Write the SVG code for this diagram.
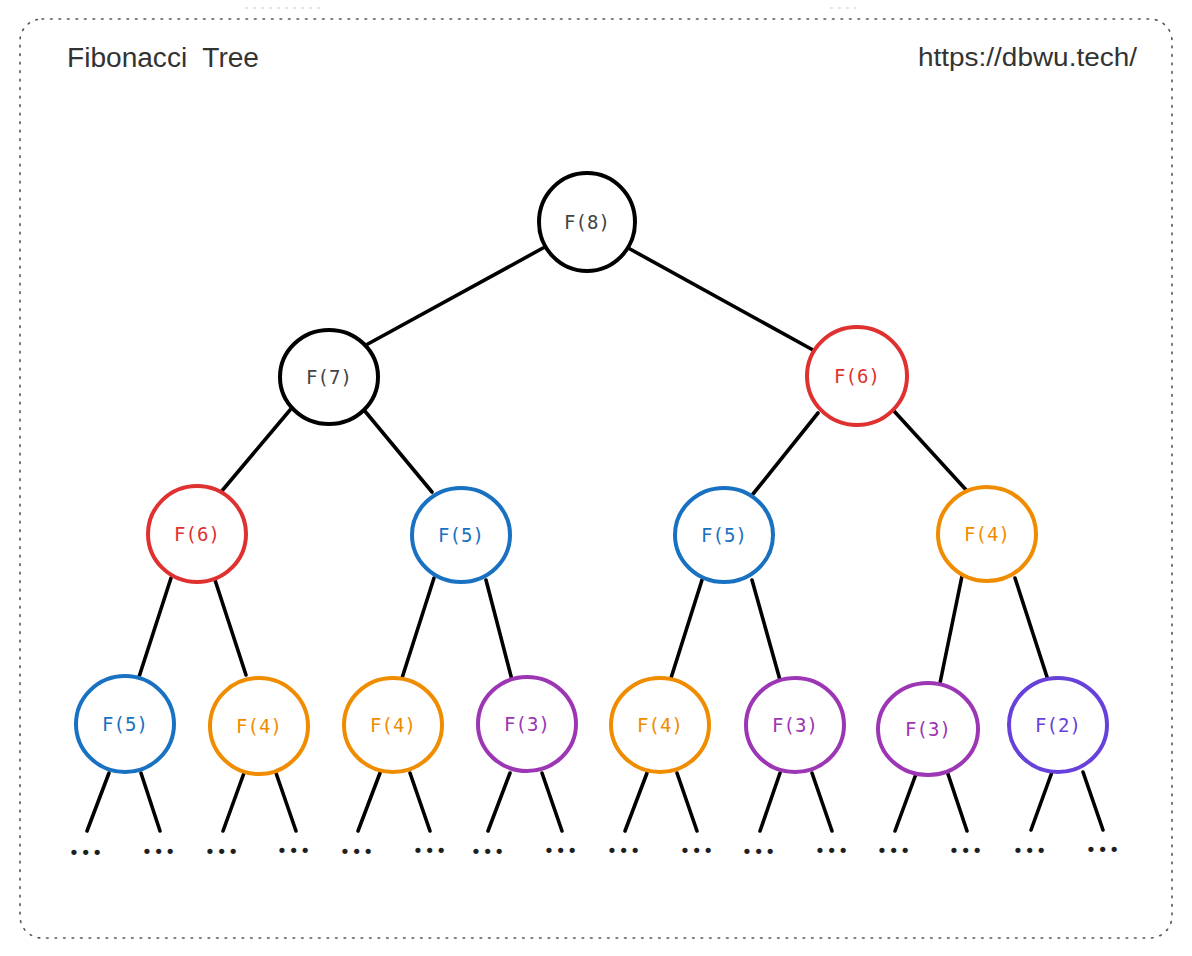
<svg xmlns="http://www.w3.org/2000/svg" width="1192" height="956" viewBox="0 0 1192 956">
<style>
.frame{fill:none;stroke:#555;stroke-width:1.6;stroke-dasharray:1.6 6.9;stroke-linecap:round}
.faint{fill:none;stroke:#ccc;stroke-width:1;stroke-dasharray:3 5}
.hdr{font-family:"Liberation Sans",Arial,sans-serif;font-size:27px;fill:#333}
.edge{stroke:#000;stroke-width:3.6;stroke-linecap:round;fill:none}
.node ellipse{fill:#fff;stroke-width:4}
.node text{font-family:"DejaVu Sans Mono","Liberation Mono",monospace;font-size:19px;text-anchor:middle}
.k ellipse{stroke:#000}.k text{fill:#444}
.r ellipse{stroke:#e03131}.r text{fill:#e03131}
.b ellipse{stroke:#1971c2}.b text{fill:#1971c2}
.o ellipse{stroke:#f08c00}.o text{fill:#f08c00}
.p ellipse{stroke:#9c36b5}.p text{fill:#9c36b5}
.v ellipse{stroke:#6741d9}.v text{fill:#6741d9}
.dots{font-family:"DejaVu Sans Mono","Liberation Mono",monospace;font-size:18px;letter-spacing:0.8px;fill:#1e1e1e;text-anchor:middle}
</style>
<rect width="1192" height="956" fill="#fff"/>
<line class="faint" x1="245" y1="8" x2="322" y2="8"/>
<line class="faint" x1="830" y1="8" x2="856" y2="8"/>
<rect class="frame" x="20" y="19" width="1152" height="919" rx="22" ry="22"/>
<text class="hdr" x="67" y="67" textLength="192" lengthAdjust="spacingAndGlyphs" xml:space="preserve">Fibonacci  Tree</text>
<text class="hdr" x="918" y="66" textLength="219" lengthAdjust="spacingAndGlyphs" style="font-size:26px">https://dbwu.tech/</text>

<g id="connectors">
<line class="edge" x1="543" y1="248" x2="366" y2="345"/>
<line class="edge" x1="630" y1="249" x2="813" y2="350"/>
<line class="edge" x1="290" y1="410" x2="221" y2="492"/>
<line class="edge" x1="364" y1="410" x2="432" y2="492"/>
<line class="edge" x1="818" y1="413" x2="753" y2="494"/>
<line class="edge" x1="894" y1="411" x2="968" y2="492"/>
<line class="edge" x1="171" y1="578" x2="138" y2="680"/>
<line class="edge" x1="215" y1="580" x2="246" y2="675"/>
<line class="edge" x1="434" y1="578" x2="402" y2="678"/>
<line class="edge" x1="486" y1="580" x2="512" y2="680"/>
<line class="edge" x1="702" y1="580" x2="671" y2="678"/>
<line class="edge" x1="752" y1="580" x2="780" y2="680"/>
<line class="edge" x1="962" y1="576" x2="940" y2="683"/>
<line class="edge" x1="1015" y1="578" x2="1048" y2="680"/>
<line class="edge" x1="109" y1="773" x2="87" y2="831"/>
<line class="edge" x1="141" y1="773" x2="160" y2="831"/>
<line class="edge" x1="244" y1="773" x2="223" y2="831"/>
<line class="edge" x1="276" y1="773" x2="296" y2="831"/>
<line class="edge" x1="380" y1="773" x2="358" y2="831"/>
<line class="edge" x1="410" y1="773" x2="430" y2="831"/>
<line class="edge" x1="510" y1="773" x2="488" y2="831"/>
<line class="edge" x1="542" y1="773" x2="562" y2="831"/>
<line class="edge" x1="647" y1="773" x2="625" y2="831"/>
<line class="edge" x1="677" y1="773" x2="697" y2="831"/>
<line class="edge" x1="780" y1="773" x2="760" y2="831"/>
<line class="edge" x1="812" y1="773" x2="832" y2="831"/>
<line class="edge" x1="916" y1="774" x2="895" y2="831"/>
<line class="edge" x1="948" y1="774" x2="967" y2="831"/>
<line class="edge" x1="1052" y1="772" x2="1031" y2="830"/>
<line class="edge" x1="1083" y1="772" x2="1103" y2="830"/>
</g>

<g id="n-f8" class="node k"><ellipse cx="587" cy="222" rx="48" ry="49"/><text x="587" y="229">F(8)</text></g>
<g id="n-f7" class="node k"><ellipse cx="329" cy="377" rx="49" ry="47"/><text x="329" y="384">F(7)</text></g>
<g id="n-f6a" class="node r"><ellipse cx="857" cy="376" rx="50" ry="49"/><text x="857" y="383">F(6)</text></g>
<g id="n-f6b" class="node r"><ellipse cx="197" cy="534" rx="49" ry="48"/><text x="197" y="541">F(6)</text></g>
<g id="n-f5a" class="node b"><ellipse cx="461" cy="535" rx="49" ry="47"/><text x="461" y="542">F(5)</text></g>
<g id="n-f5b" class="node b"><ellipse cx="724" cy="535" rx="49" ry="47"/><text x="724" y="542">F(5)</text></g>
<g id="n-f4a" class="node o"><ellipse cx="987" cy="534" rx="49" ry="47"/><text x="987" y="541">F(4)</text></g>
<g id="n-f5c" class="node b"><ellipse cx="125" cy="724" rx="49" ry="48"/><text x="125" y="731">F(5)</text></g>
<g id="n-f4b" class="node o"><ellipse cx="259" cy="726" rx="49" ry="48"/><text x="259" y="733">F(4)</text></g>
<g id="n-f4c" class="node o"><ellipse cx="393" cy="725" rx="49" ry="47"/><text x="393" y="732">F(4)</text></g>
<g id="n-f3a" class="node p"><ellipse cx="527" cy="724" rx="49" ry="47"/><text x="527" y="731">F(3)</text></g>
<g id="n-f4d" class="node o"><ellipse cx="660" cy="725" rx="49" ry="47"/><text x="660" y="732">F(4)</text></g>
<g id="n-f3b" class="node p"><ellipse cx="795" cy="725" rx="49" ry="47"/><text x="795" y="732">F(3)</text></g>
<g id="n-f3c" class="node p"><ellipse cx="928" cy="729" rx="50" ry="46"/><text x="928" y="736">F(3)</text></g>
<g id="n-f2" class="node v"><ellipse cx="1058" cy="725" rx="49" ry="47"/><text x="1058" y="732">F(2)</text></g>

<g id="dots">
<text class="dots" x="86" y="859">•••</text>
<text class="dots" x="159" y="858">•••</text>
<text class="dots" x="222" y="858">•••</text>
<text class="dots" x="294" y="857">•••</text>
<text class="dots" x="357" y="858">•••</text>
<text class="dots" x="430" y="857">•••</text>
<text class="dots" x="488" y="858">•••</text>
<text class="dots" x="561" y="857">•••</text>
<text class="dots" x="624" y="857">•••</text>
<text class="dots" x="697" y="857">•••</text>
<text class="dots" x="759" y="858">•••</text>
<text class="dots" x="832" y="857">•••</text>
<text class="dots" x="894" y="857">•••</text>
<text class="dots" x="966" y="857">•••</text>
<text class="dots" x="1030" y="857">•••</text>
<text class="dots" x="1103" y="856">•••</text>
</g>
</svg>
